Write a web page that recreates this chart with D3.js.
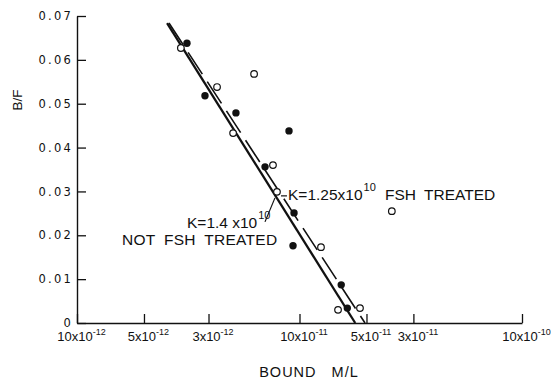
<!DOCTYPE html>
<html><head><meta charset="utf-8">
<script src="https://cdn.jsdelivr.net/npm/d3@7"></script>
<style>
body{margin:0;background:#fff}
svg{display:block}
text{font-family:"Liberation Sans",Arial,sans-serif;fill:#111}
</style>
</head><body>
<svg id="c" width="557" height="388"></svg>
<script>
// ---- data ----
const yTickValues = [0, 0.01, 0.02, 0.03, 0.04, 0.05, 0.06, 0.07];
const yTickLabels = ["0", "0.01", "0.02", "0.03", "0.04", "0.05", "0.06", "0.07"];
const xTickValues = [1e-11, 2e-11, 3.9e-11, 1e-10, 2e-10, 3.25e-10, 1e-9];
const xTickBase = ["10x10", "5x10", "3x10", "10x10", "5x10", "3x10", "10x10"];
const xTickExp = ["-12", "-12", "-12", "-11", "-11", "-11", "-10"];

// NOT FSH treated (filled)
const notTreatedX = [3.12e-11, 3.76e-11, 5.18e-11, 7.0e-11, 8.97e-11, 9.45e-11, 9.35e-11, 1.54e-10, 1.64e-10];
const notTreatedY = [0.0638, 0.0518, 0.0479, 0.0356, 0.0438, 0.0251, 0.0176, 0.0087, 0.0034];
// FSH treated (open)
const treatedX = [2.93e-11, 4.26e-11, 6.25e-11, 5.03e-11, 7.6e-11, 7.92e-11, 2.6e-10, 1.249e-10, 1.49e-10, 1.87e-10];
const treatedY = [0.0627, 0.0538, 0.0568, 0.0433, 0.0360, 0.0299, 0.0255, 0.0173, 0.0030, 0.0034];
// fitted lines
const notTreatedFitX = [2.54e-11, 1.78e-10];
const notTreatedFitY = [0.0684, 0];
const treatedFitX = [2.59e-11, 1.97e-10];
const treatedFitY = [0.0684, 0];

// ---- chart ----
const svg = d3.select("#c");
const x = d3.scaleLog().domain([1e-11, 1e-9]).range([77, 522]);
const y = d3.scaleLinear().domain([0, 0.07]).range([323, 16]);

// y axis
const yAxis = d3.axisLeft(y).tickValues(yTickValues)
  .tickFormat((d, i) => yTickLabels[i]).tickSize(-9).tickSizeOuter(0).tickPadding(4);
const gy = svg.append("g").attr("transform", "translate(77,0)").call(yAxis);
gy.select(".domain").attr("stroke", "#111").attr("stroke-width", 1.4);
gy.selectAll(".tick line").attr("stroke", "#111").attr("stroke-width", 1.3);
gy.selectAll(".tick text").attr("font-size", 11.5).attr("letter-spacing", 2.2)
  .style("font-family", "'DejaVu Sans',sans-serif").attr("fill", "#111");

// x axis
const xAxis = d3.axisBottom(x).tickValues(xTickValues).tickFormat("")
  .tickSize(-9).tickSizeOuter(0).tickPadding(9);
const gx = svg.append("g").attr("transform", "translate(0,323)").call(xAxis);
gx.select(".domain").attr("stroke", "#111").attr("stroke-width", 1.4);
gx.selectAll(".tick line").attr("stroke", "#111").attr("stroke-width", 1.3);
gx.selectAll(".tick text").each(function(d, i) {
  const t = d3.select(this).text(null).attr("font-size", 13).attr("fill", "#111")
    .attr("text-anchor", "middle").attr("dx", 4);
  t.append("tspan").text(xTickBase[i]);
  t.append("tspan").attr("font-size", 9).attr("dy", -6).text(xTickExp[i]);
});

// fitted lines
const line = d3.line().x(d => x(d[0])).y(d => y(d[1]));
svg.append("path").datum(d3.zip(treatedFitX, treatedFitY)).attr("d", line)
  .attr("fill", "none").attr("stroke", "#111").attr("stroke-width", 1.6)
  .attr("stroke-dasharray", "26,9");
svg.append("path").datum(d3.zip(notTreatedFitX, notTreatedFitY)).attr("d", line)
  .attr("fill", "none").attr("stroke", "#111").attr("stroke-width", 2.3);

// points
svg.append("g").selectAll("circle").data(d3.zip(notTreatedX, notTreatedY)).join("circle")
  .attr("cx", d => x(d[0])).attr("cy", d => y(d[1])).attr("r", 3.7).attr("fill", "#111");
svg.append("g").selectAll("circle").data(d3.zip(treatedX, treatedY)).join("circle")
  .attr("cx", d => x(d[0])).attr("cy", d => y(d[1])).attr("r", 3.3)
  .attr("fill", "#fff").attr("stroke", "#111").attr("stroke-width", 1.2);

// annotations
const ax = x(treatedX[5]), ay = y(treatedY[5]);
svg.append("line").attr("x1", ax + 4).attr("y1", ay + 4).attr("x2", ax + 10).attr("y2", ay + 4)
  .attr("stroke", "#111").attr("stroke-width", 1.2);
svg.append("line").attr("x1", ax - 2).attr("y1", ay + 6).attr("x2", ax - 12).attr("y2", ay + 30)
  .attr("stroke", "#111").attr("stroke-width", 1.2);

const t1 = svg.append("text").attr("x", 288).attr("y", 200).attr("font-size", 15.5);
t1.append("tspan").text("K=1.25x10");
t1.append("tspan").attr("font-size", 11).attr("dy", -9).attr("dx", 1).text("10");
svg.append("text").attr("x", 385).attr("y", 200).attr("font-size", 15.5)
  .attr("word-spacing", 4).text("FSH TREATED");

const t2 = svg.append("text").attr("x", 187).attr("y", 228).attr("font-size", 15.5);
t2.append("tspan").text("K=1.4 x10");
t2.append("tspan").attr("font-size", 11).attr("dy", -9).attr("dx", 1).text("10");
svg.append("text").attr("x", 122).attr("y", 245).attr("font-size", 15.5)
  .attr("word-spacing", 4).attr("letter-spacing", 0.3).text("NOT FSH TREATED");

// axis titles
svg.append("text").attr("transform", "translate(22,100) rotate(-90)")
  .attr("text-anchor", "middle").attr("font-size", 13.5).text("B/F");
svg.append("text").attr("x", 309).attr("y", 377).attr("text-anchor", "middle")
  .attr("font-size", 14.5).attr("letter-spacing", 1).attr("word-spacing", 10).text("BOUND M/L");
</script>
</body></html>
